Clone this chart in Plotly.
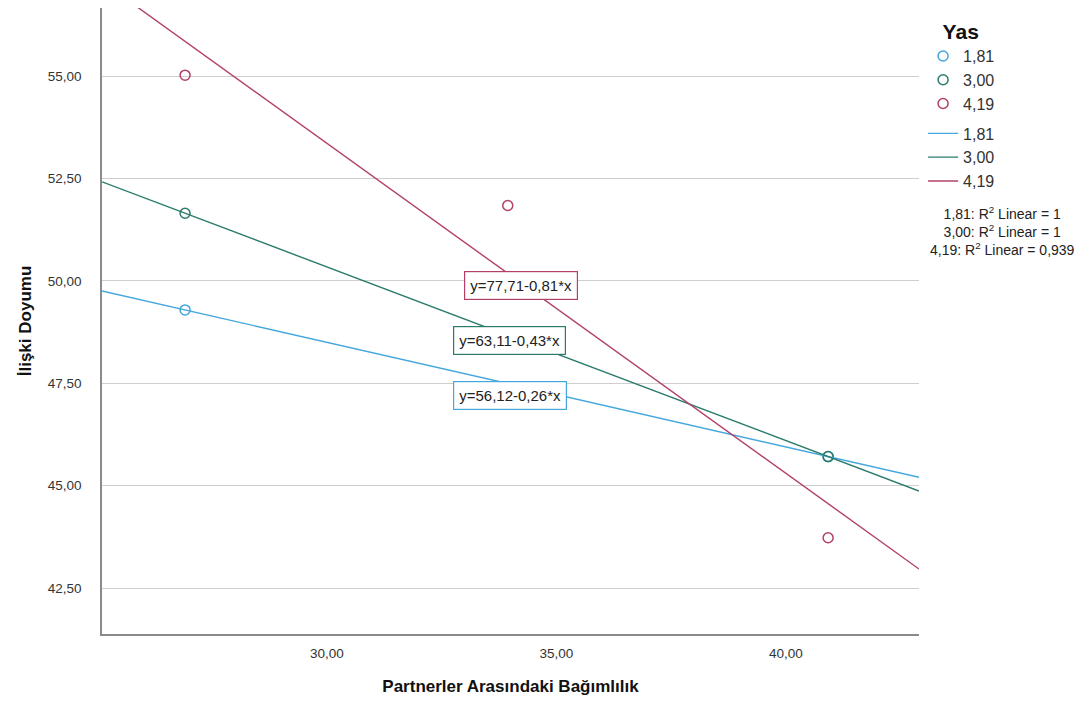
import numpy as np
import plotly.graph_objects as go

# ---- data ----
groups = ["1,81", "3,00", "4,19"]
x_181 = [26.91, 40.92]
y_181 = [49.29, 45.71]
x_300 = [26.91, 40.92]
y_300 = [51.65, 45.71]
x_419 = [26.91, 33.94, 40.92]
y_419 = [55.02, 51.84, 43.73]
equations = ["y=56,12-0,26*x", "y=63,11-0,43*x", "y=77,71-0,81*x"]
r2_values = ["1", "1", "0,939"]
x_tickvals = [30, 35, 40]
y_tickvals = [42.5, 45, 47.5, 50, 52.5, 55]

# ---- styles / layout constants ----
colors = ["#44a7de", "#2a7b6c", "#b2406b"]
x_range = [25.10, 42.90]
y_range = [41.38, 56.66]
eq_pos = [(33.99, 47.19), (33.97, 48.54), (34.23, 49.88)]

xs = [x_181, x_300, x_419]
ys = [y_181, y_300, y_419]

fig = go.Figure()

# markers
for g, x, y, c in zip(groups, xs, ys, colors):
    fig.add_trace(go.Scatter(
        x=x, y=y, mode="markers", name=g, legendgroup="pts",
        marker=dict(symbol="circle-open", size=10, color=c, line=dict(width=1.5, color=c)),
        cliponaxis=False,
    ))

# fit lines (least squares through each group's points)
for g, x, y, c in zip(groups, xs, ys, colors):
    b, a = np.polyfit(x, y, 1)
    lx = np.array(x_range)
    fig.add_trace(go.Scatter(
        x=lx, y=a + b * lx, mode="lines", name=g, legendgroup="fit",
        line=dict(color=c, width=1.4),
    ))

# equation labels
for eq, (px, py), c in zip(equations, eq_pos, colors):
    fig.add_annotation(
        x=px, y=py, xref="x", yref="y", text=eq, showarrow=False,
        font=dict(family="Liberation Sans, Arial, sans-serif", size=15, color="#222"),
        bgcolor="white", bordercolor=c, borderwidth=1.2, borderpad=5,
    )

# R^2 text
r2_text = "<br>".join(f"{g}: R<sup>2</sup> Linear = {r}" for g, r in zip(groups, r2_values))
fig.add_annotation(
    x=1.1016, y=0.690, xref="paper", yref="paper", xanchor="center", yanchor="top",
    text=r2_text, showarrow=False, align="center",
    font=dict(family="Liberation Sans, Arial, sans-serif", size=14, color="#222"),
)

title_font = dict(family="Liberation Sans, Arial, sans-serif", size=17, color="#111")

fig.update_layout(
    width=1079, height=709,
    margin=dict(l=94, r=168, t=0, b=83),
    paper_bgcolor="white", plot_bgcolor="white",
    separators=",.",
    showlegend=True,
    legend=dict(
        x=1.005, y=0.994, xanchor="left", yanchor="top",
        title=dict(text="&nbsp;&nbsp;&nbsp;<b>Yas</b>",
                   font=dict(family="Liberation Sans, Arial, sans-serif", size=21, color="#111")),
        font=dict(family="Liberation Sans, Arial, sans-serif", size=16, color="#333"),
        bgcolor="rgba(0,0,0,0)", traceorder="grouped", tracegroupgap=6, itemwidth=30,
    ),
    xaxis=dict(
        range=x_range, tickvals=x_tickvals, tickformat=".2f",
        showgrid=False, zeroline=False,
        showline=True, linecolor="#8a8a8a", linewidth=1.5,
        ticks="", ticklabelstandoff=6,
        tickfont=dict(family="Liberation Sans, Arial, sans-serif", size=13.5, color="#333"),
        title=dict(text="<b>Partnerler Arasındaki Bağımlılık</b>", font=title_font, standoff=20),
    ),
    yaxis=dict(
        range=y_range, tickvals=y_tickvals, tickformat=".2f",
        showgrid=True, gridcolor="#cfcfcf", gridwidth=1.3, zeroline=False,
        showline=True, linecolor="#8a8a8a", linewidth=1.5,
        ticks="", ticklabelstandoff=16,
        tickfont=dict(family="Liberation Sans, Arial, sans-serif", size=13.5, color="#333"),
        title=dict(text="<b>İlişki Doyumu</b>", font=title_font, standoff=12),
    ),
)

fig.write_html("out.html")
